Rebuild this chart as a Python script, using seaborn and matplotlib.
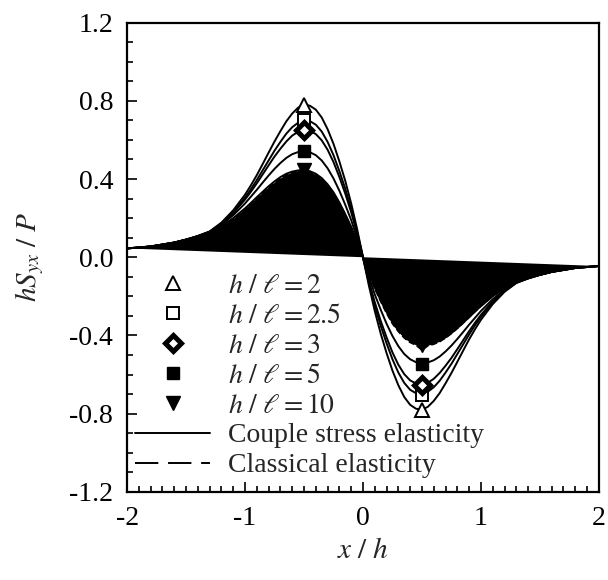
import numpy as np
import pandas as pd
import matplotlib
matplotlib.use("Agg")
import matplotlib.pyplot as plt
from matplotlib.lines import Line2D
from matplotlib.ticker import MultipleLocator
import seaborn as sns

# ---- data ----
x_vals = [-2.0, -1.9, -1.8, -1.7, -1.6, -1.5, -1.4, -1.3, -1.2, -1.1,
          -1.0, -0.95, -0.9, -0.85, -0.8, -0.75, -0.7, -0.65, -0.6, -0.55,
          -0.5, -0.45, -0.4, -0.35, -0.3, -0.25, -0.2, -0.15, -0.1, -0.05,
          0.0,
          0.05, 0.1, 0.15, 0.2, 0.25, 0.3, 0.35, 0.4, 0.45, 0.5,
          0.55, 0.6, 0.65, 0.7, 0.75, 0.8, 0.85, 0.9, 0.95, 1.0,
          1.1, 1.2, 1.3, 1.4, 1.5, 1.6, 1.7, 1.8, 1.9, 2.0]

classical = [0.045, 0.05, 0.055, 0.065, 0.075, 0.09, 0.105, 0.125, 0.155, 0.195,
             0.245, 0.272, 0.30, 0.328, 0.355, 0.38, 0.402, 0.42, 0.432, 0.44,
             0.452, 0.436, 0.422, 0.40, 0.368, 0.328, 0.277, 0.218, 0.153, 0.078,
             0.0,
             -0.082, -0.16, -0.226, -0.287, -0.34, -0.38, -0.413, -0.436, -0.45, -0.475,
             -0.453, -0.445, -0.432, -0.413, -0.39, -0.364, -0.336, -0.307, -0.278, -0.25,
             -0.198, -0.157, -0.126, -0.106, -0.09, -0.075, -0.065, -0.055, -0.05, -0.045]

h_l10 = [0.045, 0.05, 0.055, 0.065, 0.075, 0.09, 0.105, 0.125, 0.158, 0.20,
         0.25, 0.278, 0.307, 0.335, 0.363, 0.388, 0.41, 0.427, 0.438, 0.444,
         0.445, 0.44, 0.427, 0.405, 0.373, 0.332, 0.28, 0.22, 0.155, 0.08,
         0.0,
         -0.08, -0.155, -0.22, -0.28, -0.332, -0.373, -0.405, -0.427, -0.44, -0.45,
         -0.444, -0.438, -0.427, -0.41, -0.388, -0.363, -0.335, -0.307, -0.278, -0.25,
         -0.20, -0.158, -0.125, -0.105, -0.09, -0.075, -0.065, -0.055, -0.05, -0.045]

h_l5 = [0.045, 0.05, 0.055, 0.065, 0.075, 0.09, 0.107, 0.128, 0.165, 0.215,
        0.275, 0.31, 0.345, 0.382, 0.418, 0.452, 0.482, 0.508, 0.527, 0.538,
        0.542, 0.537, 0.522, 0.495, 0.455, 0.403, 0.34, 0.268, 0.19, 0.098,
        0.0,
        -0.098, -0.19, -0.268, -0.34, -0.403, -0.455, -0.495, -0.522, -0.537, -0.545,
        -0.538, -0.527, -0.508, -0.482, -0.452, -0.418, -0.382, -0.345, -0.31, -0.275,
        -0.215, -0.165, -0.128, -0.107, -0.09, -0.075, -0.065, -0.055, -0.05, -0.045]

h_l3 = [0.045, 0.05, 0.055, 0.065, 0.075, 0.09, 0.108, 0.13, 0.17, 0.225,
        0.295, 0.335, 0.378, 0.424, 0.47, 0.515, 0.555, 0.592, 0.622, 0.642,
        0.65, 0.646, 0.63, 0.598, 0.55, 0.487, 0.41, 0.325, 0.23, 0.12,
        0.0,
        -0.12, -0.23, -0.325, -0.41, -0.487, -0.55, -0.598, -0.63, -0.646, -0.655,
        -0.642, -0.622, -0.592, -0.555, -0.515, -0.47, -0.424, -0.378, -0.335, -0.295,
        -0.225, -0.17, -0.13, -0.108, -0.09, -0.075, -0.065, -0.055, -0.05, -0.045]

h_l25 = [0.045, 0.05, 0.055, 0.065, 0.075, 0.09, 0.108, 0.13, 0.172, 0.23,
         0.305, 0.348, 0.395, 0.445, 0.495, 0.545, 0.59, 0.632, 0.665, 0.688,
         0.70, 0.696, 0.678, 0.643, 0.59, 0.522, 0.44, 0.35, 0.248, 0.13,
         0.0,
         -0.13, -0.248, -0.35, -0.44, -0.522, -0.59, -0.643, -0.678, -0.696, -0.705,
         -0.688, -0.665, -0.632, -0.59, -0.545, -0.495, -0.445, -0.395, -0.348, -0.305,
         -0.23, -0.172, -0.13, -0.108, -0.09, -0.075, -0.065, -0.055, -0.05, -0.045]

h_l2 = [0.045, 0.05, 0.055, 0.065, 0.075, 0.09, 0.109, 0.132, 0.177, 0.24,
        0.32, 0.368, 0.42, 0.477, 0.535, 0.592, 0.645, 0.695, 0.735, 0.765,
        0.78, 0.775, 0.755, 0.715, 0.655, 0.58, 0.49, 0.39, 0.275, 0.145,
        0.0,
        -0.145, -0.275, -0.39, -0.49, -0.58, -0.655, -0.715, -0.755, -0.775, -0.78,
        -0.765, -0.735, -0.695, -0.645, -0.592, -0.535, -0.477, -0.42, -0.368, -0.32,
        -0.24, -0.177, -0.132, -0.109, -0.09, -0.075, -0.065, -0.055, -0.05, -0.045]

labels = [r"$h\ /\ \ell = 2$", r"$h\ /\ \ell = 2.5$", r"$h\ /\ \ell = 3$",
          r"$h\ /\ \ell = 5$", r"$h\ /\ \ell = 10$"]
marker_x = [-0.5, 0.5]

# ---- style ----
sns.set_style("ticks")
plt.rcParams["font.family"] = ["Liberation Serif", "DejaVu Serif"]
plt.rcParams["mathtext.fontset"] = "stix"
plt.rcParams["axes.unicode_minus"] = False
plt.rcParams["font.size"] = 20

fig = plt.figure(figsize=(6.08, 5.8), dpi=100)
ax = fig.add_axes([0.209, 0.152, 0.776, 0.809])

# classical elasticity: filled polygon + dashed line
ax.fill(x_vals, classical, color="black", lw=0, zorder=1)
sns.lineplot(x=x_vals, y=classical, ax=ax, color="black", lw=1.2,
             linestyle="--", zorder=2, sort=False)

curves = [h_l2, h_l25, h_l3, h_l5, h_l10]
styles = [
    dict(marker="^", mfc="white", mec="black", ms=10, mew=1.4),
    dict(marker="s", mfc="white", mec="black", ms=9, mew=1.4),
    dict(marker="D", mfc="white", mec="black", ms=8, mew=3.6),
    dict(marker="s", mfc="black", mec="black", ms=9, mew=1.0),
    dict(marker="v", mfc="black", mec="black", ms=10, mew=1.0),
]
idx = [x_vals.index(v) for v in marker_x]
for y, st in zip(curves, styles):
    sns.lineplot(x=x_vals, y=y, ax=ax, color="black", lw=1.4, zorder=3,
                 sort=False, markevery=idx, **st)

ax.set_xlim(-2, 2)
ax.set_ylim(-1.2, 1.2)
ax.xaxis.set_major_locator(MultipleLocator(1))
ax.xaxis.set_minor_locator(MultipleLocator(0.1))
ax.yaxis.set_major_locator(MultipleLocator(0.4))
ax.yaxis.set_minor_locator(MultipleLocator(0.1))
ax.yaxis.set_major_formatter(plt.FuncFormatter(lambda v, p: f"{v:.1f}"))
ax.xaxis.set_major_formatter(plt.FuncFormatter(lambda v, p: f"{v:.0f}"))
ax.tick_params(which="both", direction="in", top=False, right=False,
               labelsize=20, width=1.2, colors="black")
ax.tick_params(which="major", length=7, pad=10)
ax.tick_params(which="minor", length=4)
for s in ax.spines.values():
    s.set_linewidth(1.6)
    s.set_color("black")

ax.set_xlabel(r"$x\ /\ h$", fontsize=21, labelpad=5)
ax.set_ylabel(r"$hS_{yx}\ /\ P$", fontsize=21, labelpad=17)

handles = []
for st, lab in zip(styles, labels):
    handles.append(Line2D([], [], ls="none", label=lab, **st))
handles.append(Line2D([], [], color="black", lw=1.4, label="Couple stress elasticity"))
handles.append(Line2D([], [], color="black", lw=1.4, ls=(0, (12, 5)), label="Classical elasticity"))
ax.legend(handles=handles, loc="upper left", bbox_to_anchor=(0.0, 0.483),
          frameon=False, fontsize=20, handlelength=2.7, handletextpad=0.65,
          labelspacing=0.16, borderaxespad=0.0, borderpad=0.3)

fig.savefig("out.png", dpi=100)
